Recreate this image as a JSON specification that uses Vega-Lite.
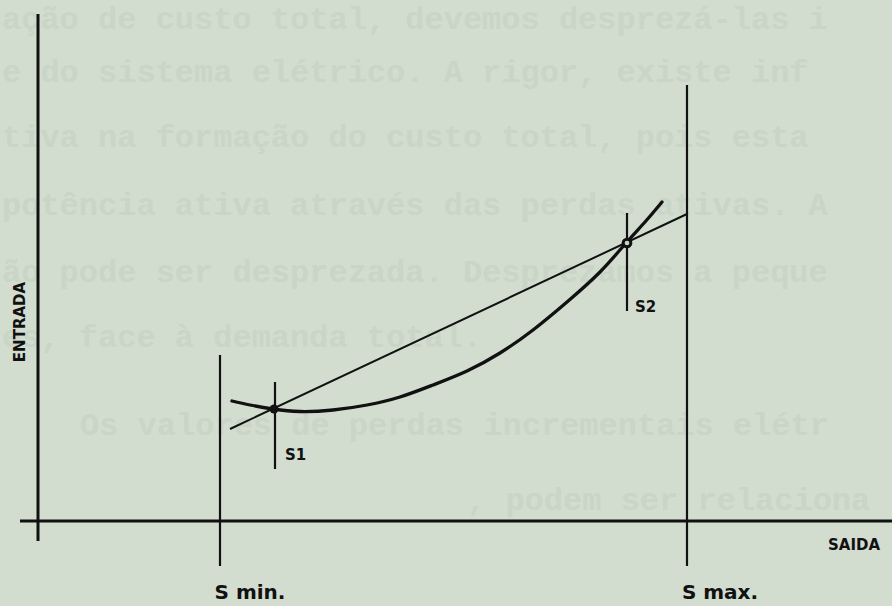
{
  "$schema": "https://vega.github.io/schema/vega-lite/v6.json",
  "width": 892,
  "height": 606,
  "padding": 0,
  "autosize": {"type": "none"},
  "background": "#d2ddcf",
  "config": {"view": {"stroke": null}},
  "datasets": {
    "bleed": [
      {"row": 1, "t": "ação de custo total, devemos desprezá-las i", "x": -0.36, "y": 5.02},
      {"row": 2, "t": "e do sistema elétrico. A rigor, existe inf", "x": -0.36, "y": 4.49},
      {"row": 3, "t": "tiva na formação do custo total, pois esta", "x": -0.36, "y": 3.84},
      {"row": 4, "t": "potência ativa através das perdas ativas. A", "x": -0.36, "y": 3.16},
      {"row": 5, "t": "ão pode ser desprezada. Desprezamos a peque", "x": -0.36, "y": 2.49},
      {"row": 6, "t": "es, face à demanda total.", "x": -0.36, "y": 1.84},
      {"row": 7, "t": "Os valores de perdas incrementais elétr", "x": 0.42, "y": 0.96},
      {"row": 8, "t": ", podem ser relaciona", "x": 4.29, "y": 0.21}
    ],
    "axes": [
      {"axis": "ENTRADA", "x": 0, "y": -0.2, "x2": 0, "y2": 5.07},
      {"axis": "SAIDA", "x": -0.18, "y": 0, "x2": 8.54, "y2": 0}
    ],
    "limits": [
      {"limit": "S min.", "x": 1.82, "y": -0.45, "x2": 1.82, "y2": 1.66},
      {"limit": "S max.", "x": 6.49, "y": -0.45, "x2": 6.49, "y2": 4.36}
    ],
    "ticks": [
      {"point": "S1", "x": 2.37, "y": 0.52, "x2": 2.37, "y2": 1.39},
      {"point": "S2", "x": 5.89, "y": 2.1, "x2": 5.89, "y2": 3.08}
    ],
    "chord": [
      {"x": 1.92, "y": 0.92},
      {"x": 6.49, "y": 3.07}
    ],
    "curve": [
      {"x": 1.94, "y": 1.2},
      {"x": 2.12, "y": 1.16},
      {"x": 2.35, "y": 1.12},
      {"x": 2.62, "y": 1.095},
      {"x": 2.95, "y": 1.11},
      {"x": 3.29, "y": 1.16},
      {"x": 3.62, "y": 1.24},
      {"x": 3.95, "y": 1.36},
      {"x": 4.29, "y": 1.5},
      {"x": 4.62, "y": 1.68},
      {"x": 4.95, "y": 1.91},
      {"x": 5.29, "y": 2.19},
      {"x": 5.62, "y": 2.49},
      {"x": 5.88, "y": 2.78},
      {"x": 6.07, "y": 2.99},
      {"x": 6.24, "y": 3.19}
    ],
    "points": [
      {"point": "S1", "x": 2.36, "y": 1.12, "lx": 2.47, "ly": 0.66},
      {"point": "S2", "x": 5.89, "y": 2.78, "lx": 5.97, "ly": 2.14}
    ],
    "limitLabels": [
      {"t": "S min.", "x": 2.12, "y": -0.72},
      {"t": "S max.", "x": 6.82, "y": -0.72}
    ],
    "axisLabels": [
      {"t": "SAIDA", "x": 8.16, "y": -0.24, "angle": 0},
      {"t": "ENTRADA", "x": -0.18, "y": 1.99, "angle": 270}
    ]
  },
  "layer": [
    {
      "data": {"name": "bleed"},
      "mark": {"type": "text", "align": "left", "baseline": "middle", "font": "Liberation Mono", "fontWeight": "bold", "fontSize": 32, "color": "#c9d5c6"},
      "encoding": {
        "x": {"field": "x", "type": "quantitative", "scale": {"domain": [-0.38, 8.54], "nice": false, "zero": false}, "axis": null},
        "y": {"field": "y", "type": "quantitative", "scale": {"domain": [-0.85, 5.21], "nice": false, "zero": false}, "axis": null},
        "text": {"field": "t"}
      }
    },
    {
      "data": {"name": "axes"},
      "mark": {"type": "rule", "color": "#111111", "strokeWidth": 3},
      "encoding": {
        "x": {"field": "x", "type": "quantitative"},
        "y": {"field": "y", "type": "quantitative"},
        "x2": {"field": "x2"},
        "y2": {"field": "y2"}
      }
    },
    {
      "data": {"name": "limits"},
      "mark": {"type": "rule", "color": "#111111", "strokeWidth": 2.2},
      "encoding": {
        "x": {"field": "x", "type": "quantitative"},
        "y": {"field": "y", "type": "quantitative"},
        "x2": {"field": "x2"},
        "y2": {"field": "y2"}
      }
    },
    {
      "data": {"name": "ticks"},
      "mark": {"type": "rule", "color": "#111111", "strokeWidth": 2.2},
      "encoding": {
        "x": {"field": "x", "type": "quantitative"},
        "y": {"field": "y", "type": "quantitative"},
        "x2": {"field": "x2"},
        "y2": {"field": "y2"}
      }
    },
    {
      "data": {"name": "chord"},
      "mark": {"type": "line", "color": "#111111", "strokeWidth": 2},
      "encoding": {
        "x": {"field": "x", "type": "quantitative"},
        "y": {"field": "y", "type": "quantitative"}
      }
    },
    {
      "data": {"name": "curve"},
      "mark": {"type": "line", "color": "#111111", "strokeWidth": 3.3, "interpolate": "natural", "strokeCap": "round"},
      "encoding": {
        "x": {"field": "x", "type": "quantitative"},
        "y": {"field": "y", "type": "quantitative"}
      }
    },
    {
      "data": {"name": "points"},
      "transform": [{"filter": "datum.point == 'S1'"}],
      "mark": {"type": "point", "shape": "circle", "filled": true, "color": "#111111", "size": 80, "opacity": 1},
      "encoding": {
        "x": {"field": "x", "type": "quantitative"},
        "y": {"field": "y", "type": "quantitative"}
      }
    },
    {
      "data": {"name": "points"},
      "transform": [{"filter": "datum.point == 'S2'"}],
      "mark": {"type": "point", "shape": "circle", "filled": false, "stroke": "#111111", "fill": "#c9d6c6", "fillOpacity": 1, "strokeWidth": 3, "size": 60, "opacity": 1},
      "encoding": {
        "x": {"field": "x", "type": "quantitative"},
        "y": {"field": "y", "type": "quantitative"}
      }
    },
    {
      "data": {"name": "points"},
      "mark": {"type": "text", "align": "left", "baseline": "middle", "font": "DejaVu Sans", "fontWeight": "bold", "fontSize": 15, "color": "#111111"},
      "encoding": {
        "x": {"field": "lx", "type": "quantitative"},
        "y": {"field": "ly", "type": "quantitative"},
        "text": {"field": "point"}
      }
    },
    {
      "data": {"name": "limitLabels"},
      "mark": {"type": "text", "align": "center", "baseline": "middle", "font": "DejaVu Sans", "fontWeight": "bold", "fontSize": 20, "color": "#111111"},
      "encoding": {
        "x": {"field": "x", "type": "quantitative"},
        "y": {"field": "y", "type": "quantitative"},
        "text": {"field": "t"}
      }
    },
    {
      "data": {"name": "axisLabels"},
      "transform": [{"filter": "datum.angle == 0"}],
      "mark": {"type": "text", "align": "center", "baseline": "middle", "font": "DejaVu Sans", "fontWeight": "bold", "fontSize": 15, "color": "#111111"},
      "encoding": {
        "x": {"field": "x", "type": "quantitative"},
        "y": {"field": "y", "type": "quantitative"},
        "text": {"field": "t"}
      }
    },
    {
      "data": {"name": "axisLabels"},
      "transform": [{"filter": "datum.angle == 270"}],
      "mark": {"type": "text", "align": "center", "baseline": "middle", "angle": 270, "font": "DejaVu Sans", "fontWeight": "bold", "fontSize": 15, "color": "#111111"},
      "encoding": {
        "x": {"field": "x", "type": "quantitative"},
        "y": {"field": "y", "type": "quantitative"},
        "text": {"field": "t"}
      }
    }
  ]
}
